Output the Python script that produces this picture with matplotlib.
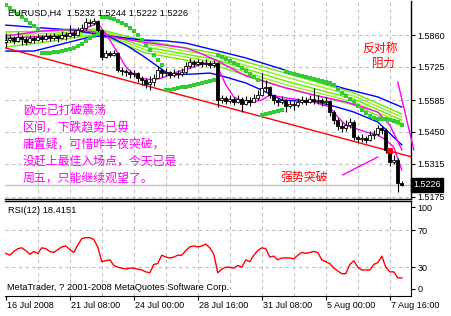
import numpy as np
import matplotlib
matplotlib.use("Agg")
import matplotlib.pyplot as plt
import matplotlib.transforms as mtransforms

# ================================
# DATA (EURUSD H4)
# ================================
close = [1.5839, 1.5847, 1.5835, 1.5852, 1.5843, 1.5830, 1.5847, 1.5839, 1.5852, 1.5843,
         1.5856, 1.5847, 1.5856, 1.5847, 1.5860, 1.5856, 1.5868, 1.5860, 1.5881, 1.5890,
         1.5915, 1.5911, 1.5919, 1.5881, 1.5767, 1.5784, 1.5775, 1.5784, 1.5712, 1.5708,
         1.5703, 1.5695, 1.5699, 1.5678, 1.5670, 1.5653, 1.5661, 1.5678, 1.5712, 1.5699,
         1.5703, 1.5691, 1.5699, 1.5695, 1.5703, 1.5729, 1.5746, 1.5737, 1.5746, 1.5737,
         1.5742, 1.5733, 1.5742, 1.5585, 1.5594, 1.5581, 1.5589, 1.5577, 1.5589, 1.5568,
         1.5585, 1.5577, 1.5594, 1.5606, 1.5636, 1.5640, 1.5606, 1.5585, 1.5577, 1.5585,
         1.5560, 1.5568, 1.5564, 1.5577, 1.5585, 1.5577, 1.5589, 1.5581, 1.5585, 1.5577,
         1.5581, 1.5534, 1.5500, 1.5475, 1.5467, 1.5479, 1.5492, 1.5429, 1.5420, 1.5424,
         1.5416, 1.5437, 1.5441, 1.5467, 1.5458, 1.5374, 1.5322, 1.5331, 1.5232, 1.5226]
high = [1.5868, 1.5860, 1.5856, 1.5873, 1.5860, 1.5852, 1.5860, 1.5856, 1.5864, 1.5860,
        1.5868, 1.5864, 1.5868, 1.5860, 1.5877, 1.5873, 1.5902, 1.5881, 1.5894, 1.5907,
        1.5932, 1.5928, 1.5932, 1.5923, 1.5881, 1.5797, 1.5792, 1.5797, 1.5788, 1.5725,
        1.5716, 1.5712, 1.5712, 1.5703, 1.5687, 1.5678, 1.5687, 1.5695, 1.5729, 1.5716,
        1.5720, 1.5708, 1.5716, 1.5712, 1.5720, 1.5746, 1.5763, 1.5754, 1.5758, 1.5754,
        1.5758, 1.5750, 1.5754, 1.5746, 1.5606, 1.5602, 1.5606, 1.5598, 1.5606, 1.5598,
        1.5602, 1.5598, 1.5610, 1.5627, 1.5699, 1.5670, 1.5644, 1.5610, 1.5594, 1.5602,
        1.5589, 1.5585, 1.5581, 1.5594, 1.5602, 1.5598, 1.5606, 1.5636, 1.5606, 1.5594,
        1.5598, 1.5585, 1.5543, 1.5509, 1.5492, 1.5500, 1.5509, 1.5500, 1.5437, 1.5441,
        1.5433, 1.5454, 1.5458, 1.5479, 1.5475, 1.5467, 1.5374, 1.5352, 1.5340, 1.5244]
low = [1.5809, 1.5830, 1.5822, 1.5830, 1.5818, 1.5818, 1.5826, 1.5826, 1.5835, 1.5830,
       1.5839, 1.5835, 1.5839, 1.5830, 1.5843, 1.5839, 1.5852, 1.5847, 1.5856, 1.5873,
       1.5881, 1.5898, 1.5902, 1.5868, 1.5754, 1.5763, 1.5767, 1.5771, 1.5703, 1.5691,
       1.5687, 1.5678, 1.5682, 1.5661, 1.5649, 1.5636, 1.5627, 1.5644, 1.5678, 1.5682,
       1.5687, 1.5678, 1.5682, 1.5678, 1.5687, 1.5695, 1.5720, 1.5725, 1.5729, 1.5725,
       1.5729, 1.5720, 1.5725, 1.5555, 1.5572, 1.5568, 1.5572, 1.5564, 1.5572, 1.5534,
       1.5564, 1.5560, 1.5577, 1.5585, 1.5602, 1.5619, 1.5594, 1.5568, 1.5560, 1.5568,
       1.5534, 1.5551, 1.5543, 1.5555, 1.5568, 1.5564, 1.5572, 1.5568, 1.5568, 1.5560,
       1.5568, 1.5517, 1.5483, 1.5458, 1.5450, 1.5454, 1.5467, 1.5416, 1.5407, 1.5407,
       1.5403, 1.5412, 1.5420, 1.5433, 1.5441, 1.5361, 1.5306, 1.5314, 1.5196, 1.5222]
first_open = 1.5830

# Parabolic SAR dots
sar = [1.5987, 1.5974, 1.5962, 1.5949, 1.5936, 1.5923, 1.5911, 1.5898, 1.5885, 1.5784,
       1.5784, 1.5784, 1.5788, 1.5788, 1.5792, 1.5797, 1.5801, 1.5805, 1.5813, 1.5822,
       1.5835, 1.5847, 1.5856, 1.5864, 1.5936, 1.5936, 1.5932, 1.5928, 1.5919, 1.5911,
       1.5902, 1.5890, 1.5877, 1.5860, 1.5839, 1.5818, 1.5797, 1.5775, 1.5754, 1.5733,
       1.5627, 1.5627, 1.5632, 1.5636, 1.5640, 1.5640, 1.5644, 1.5649, 1.5653, 1.5657,
       1.5661, 1.5665, 1.5670, 1.5775, 1.5767, 1.5758, 1.5750, 1.5742, 1.5733, 1.5720,
       1.5708, 1.5695, 1.5682, 1.5670, 1.5522, 1.5526, 1.5530, 1.5534, 1.5539, 1.5543,
       1.5703, 1.5699, 1.5695, 1.5691, 1.5687, 1.5682, 1.5678, 1.5674, 1.5670, 1.5665,
       1.5661, 1.5657, 1.5649, 1.5632, 1.5615, 1.5602, 1.5589, 1.5577, 1.5560, 1.5543,
       1.5530, 1.5517, 1.5509, 1.5505, 1.5505, 1.5505, 1.5500, 1.5496, 1.5492, 1.5479]

# moving averages (bar index, price)
blue_slow_x = [0, 9, 17, 24, 34, 40, 45, 51, 60, 69, 77, 85, 93, 99]
blue_slow_y = [1.5902, 1.5890, 1.5881, 1.5860, 1.5839, 1.5835, 1.5826, 1.5801, 1.5763,
               1.5716, 1.5670, 1.5632, 1.5598, 1.5555]
blue_fast_x = [0, 7, 15, 22, 26, 30, 34, 41, 47, 51, 55, 60, 64, 69, 77, 81, 87, 93, 99]
blue_fast_y = [1.5792, 1.5792, 1.5826, 1.5856, 1.5852, 1.5818, 1.5775, 1.5691, 1.5695,
               1.5699, 1.5682, 1.5657, 1.5627, 1.5585, 1.5577, 1.5564, 1.5534, 1.5492, 1.5395]
mag_fast_x = [0, 6, 14, 19, 23, 26, 28, 30, 33, 37, 39, 42, 46, 50, 53, 55, 57, 60, 64,
              66, 70, 77, 81, 83, 85, 87, 90, 93, 95, 97, 99]
mag_fast_y = [1.5847, 1.5852, 1.5856, 1.5881, 1.5911, 1.5839, 1.5784, 1.5725, 1.5678,
              1.5670, 1.5678, 1.5699, 1.5720, 1.5742, 1.5725, 1.5649, 1.5598, 1.5572,
              1.5585, 1.5606, 1.5594, 1.5577, 1.5555, 1.5513, 1.5479, 1.5467, 1.5450,
              1.5437, 1.5416, 1.5386, 1.5289]
mag_slow_x = [0, 9, 17, 24, 28, 36, 45, 49, 53, 60, 70, 77, 85, 93, 96, 99]
mag_slow_y = [1.5856, 1.5877, 1.5885, 1.5868, 1.5847, 1.5826, 1.5805, 1.5780, 1.5750,
              1.5687, 1.5636, 1.5606, 1.5577, 1.5534, 1.5479, 1.5374]
lime_x = [0, 12, 23, 35, 52, 70, 87, 99]
lime_1 = [1.5873, 1.5877, 1.5885, 1.5835, 1.5784, 1.5699, 1.5615, 1.5526]
lime_2 = [1.5860, 1.5868, 1.5881, 1.5822, 1.5771, 1.5682, 1.5602, 1.5513]
lime_3 = [1.5843, 1.5860, 1.5877, 1.5809, 1.5758, 1.5665, 1.5589, 1.5500]
lime_4 = [1.5826, 1.5847, 1.5873, 1.5797, 1.5746, 1.5649, 1.5577, 1.5488]
lime_5 = [1.5809, 1.5835, 1.5864, 1.5784, 1.5733, 1.5636, 1.5564, 1.5475]

# drawn objects
trend_x = [0, 101.5]
trend_y = [1.5805, 1.5344]
break_x, break_y = 96, 1.5369
resist_x = [98, 102]
resist_y = [1.5661, 1.5374]
arrow_x = [84.25, 93]
arrow_y = [1.5268, 1.5344]

rsi = [45, 43, 47, 50, 51, 48, 44, 47, 45, 51, 50, 47, 46, 49, 52, 53, 49, 46, 54, 61,
       62, 62, 60, 52, 36, 37, 38, 32, 30, 29, 28, 29, 29, 28, 27, 25, 24, 33, 34, 43,
       41, 40, 41, 43, 43, 48, 52, 53, 52, 53, 55, 51, 44, 24, 28, 30, 30, 29, 32, 30,
       38, 36, 43, 48, 51, 50, 41, 42, 38, 40, 40, 40, 39, 43, 46, 45, 46, 47, 46, 38,
       36, 34, 29, 26, 23, 23, 33, 37, 30, 27, 27, 27, 33, 35, 42, 30, 25, 25, 18.5, 18.4]

price_ticks = [1.5860, 1.5725, 1.5585, 1.5450, 1.5315, 1.5175]
time_pos = [0, 16, 32, 48, 64, 80, 96]
time_labels = ["16 Jul 2008", "21 Jul 08:00", "24 Jul 00:00", "28 Jul 16:00",
               "31 Jul 08:00", "5 Aug 00:00", "7 Aug 16:00"]
last_price = 1.5226

note_lines = ["欧元已打破震荡", "区间，下跌趋势已毋", "庸置疑，可惜昨半夜突破，",
              "没赶上最佳入场点，今天已是", "周五，只能继续观望了。"]

# ================================
# FIGURE
# ================================
W, H = 452, 316
fig = plt.figure(figsize=(W / 100, H / 100), dpi=100)
fig.patch.set_facecolor("white")
plt.rcParams["font.family"] = ["Liberation Sans", "DejaVu Sans"]
CJK = ["Noto Sans CJK SC", "DejaVu Sans"]

def box(x0, y0, x1, y1):
    return [x0 / W, 1 - y1 / H, (x1 - x0) / W, (y1 - y0) / H]

ax = fig.add_axes(box(5, 1, 411, 199))
ax_r = fig.add_axes(box(5, 201, 411, 296))

n = len(close)
idx = np.arange(n)
opn = [first_open] + close[:-1]
XMIN, XMAX = -0.2, 101.3
grid_kw = dict(color="#c0c0c0", lw=0.8, ls=(0, (3, 3)), zorder=0)
line_kw = dict(lw=1.0)

# ---- main panel
for xg in range(8, 100, 8):
    ax.axvline(xg, **grid_kw)
for p in price_ticks:
    ax.axhline(p, **grid_kw)
ax.axhline(last_price, color="#c0c0c0", lw=1, zorder=0)

for ys in [lime_1, lime_3, lime_5]:
    ax.plot(lime_x, ys, color="#66ee00", zorder=1, **line_kw)
for ys in [lime_2, lime_4]:
    ax.plot(lime_x, ys, color="#99ee22", zorder=1, **line_kw)
ax.plot(blue_slow_x, blue_slow_y, color="#0000ff", zorder=2, **line_kw)
ax.plot(blue_fast_x, blue_fast_y, color="#0000ff", zorder=2, **line_kw)
ax.plot(mag_slow_x, mag_slow_y, color="#ff00ff", zorder=2, **line_kw)
ax.plot(mag_fast_x, mag_fast_y, color="#ff00ff", zorder=2, **line_kw)
ax.plot(trend_x, trend_y, color="#ff0000", zorder=2, **line_kw)

# candles
for i in range(n):
    o, c = opn[i], close[i]
    ax.vlines(i, low[i], high[i], color="black", lw=0.8, zorder=3)
    lo, hi = min(o, c), max(o, c)
    if hi - lo < 0.00015:
        ax.hlines(c, i - 0.35, i + 0.35, color="black", lw=0.8, zorder=4)
    else:
        ax.add_patch(plt.Rectangle((i - 0.35, lo), 0.7, hi - lo,
                                   facecolor="white" if c > o else "black",
                                   edgecolor="black", lw=0.6, zorder=4))

ax.plot(idx, sar, ls="none", marker="s", ms=2.4, color="#33cc33", mew=0, zorder=5)
ax.plot(break_x, break_y, marker="s", ms=4.2, color="#ff0000", mew=0, zorder=6)
ax.plot(resist_x, resist_y, color="#ff00ff", zorder=6, clip_on=False, **line_kw)
ax.plot(arrow_x, arrow_y, color="#ff00ff", zorder=6, **line_kw)

ax.set_xlim(XMIN, XMAX)
ax.set_ylim(1.5166, 1.6004)
ax.set_xticks([])
ax.yaxis.tick_right()
ax.set_yticks(price_ticks)
ax.set_yticklabels([f"{p:.4f}" for p in price_ticks], fontsize=6.5)
ax.tick_params(axis="y", length=3, width=0.8, pad=1.5, direction="out")

# current price box
trans = mtransforms.blended_transform_factory(ax.transAxes, ax.transData)
ax.text(1.006, last_price, "1.5226", transform=trans, fontsize=6.5, color="white",
        va="center", ha="left", zorder=10,
        bbox=dict(boxstyle="square,pad=0.25", fc="black", ec="black"))

for sp in ["top", "left"]:
    ax.spines[sp].set_visible(False)
ax.spines["right"].set_linewidth(1)
ax.spines["bottom"].set_linewidth(1)

fig.text(8 / W, 1 - 13 / H, "EURUSD,H4  1.5232 1.5244 1.5222 1.5226",
         fontsize=6.7, va="center", ha="left")

# annotations
for k, line in enumerate(note_lines):
    fig.text(23 / W, 1 - (110 + k * 17) / H, line, fontsize=8.6, color="#ff00ff",
             va="center", ha="left", family=CJK)
fig.text(380 / W, 1 - 48 / H, "反对称", fontsize=8.6, color="#ff0000", va="center",
         ha="center", family=CJK)
fig.text(384 / W, 1 - 63 / H, "阻力", fontsize=8.6, color="#ff0000", va="center",
         ha="center", family=CJK)
fig.text(304 / W, 1 - 177 / H, "强势突破", fontsize=8.6, color="#ff0000", va="center",
         ha="center", family=CJK)

# ---- RSI panel
for xg in range(8, 100, 8):
    ax_r.axvline(xg, **grid_kw)
for lv in [70, 30]:
    ax_r.axhline(lv, **grid_kw)
ax_r.plot(idx, rsi, color="#ff0000", zorder=3, **line_kw)
ax_r.set_xlim(XMIN, XMAX)
ax_r.set_ylim(-1.1, 101.6)
ax_r.yaxis.tick_right()
ax_r.set_yticks([95, 70, 30, 6.5])
ax_r.set_yticklabels(["100", "70", "30", "0"], fontsize=6.5)
ax_r.tick_params(axis="y", length=3, width=0.8, pad=1.5)
ax_r.set_xticks(time_pos)
ax_r.set_xticklabels([])
ax_r.tick_params(axis="x", length=3, width=0.8)
ttrans = mtransforms.blended_transform_factory(ax_r.transData, ax_r.transAxes)
for pos, lab in zip(time_pos, time_labels):
    ax_r.text(pos + 0.4, -0.105, lab, transform=ttrans, fontsize=6.5, va="center", ha="left")
ax_r.spines["left"].set_visible(False)
ax_r.spines["top"].set_linewidth(1)

ax_r.text(0.008, 0.9, "RSI(12) 18.4151", transform=ax_r.transAxes, fontsize=6.7,
          va="center", ha="left")
ax_r.text(0.005, 0.085, "MetaTrader, ? 2001-2008 MetaQuotes Software Corp.",
          transform=ax_r.transAxes, fontsize=6.7, va="center", ha="left")

fig.savefig("out.png", dpi=100)
